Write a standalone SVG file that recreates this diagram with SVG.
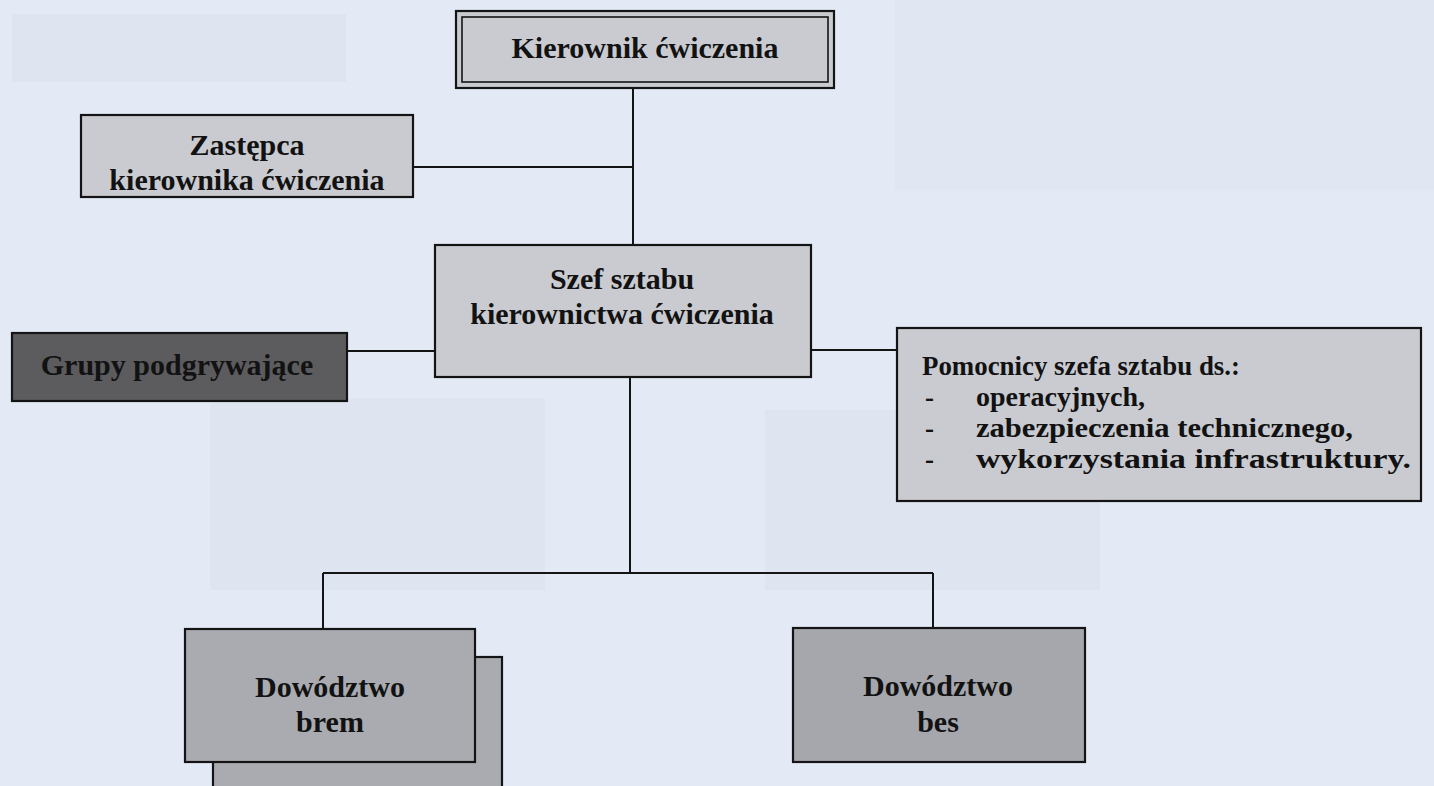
<svg xmlns="http://www.w3.org/2000/svg" width="1434" height="786" viewBox="0 0 1434 786">
<style>
.box{stroke:#141414;stroke-width:2.2}
.lt{fill:#c9cbd0}
.md{fill:#a9abb0}
.dk{fill:#5c5c5f}
.t{font-family:"Liberation Serif","Times New Roman",serif;font-weight:bold;font-size:30px;fill:#121212;text-anchor:middle}
.p{font-family:"Liberation Serif","Times New Roman",serif;font-weight:bold;font-size:27px;fill:#121212}
.ghost{fill:#dfe5f0}
.conn line{stroke:#141414;stroke-width:2}
</style>
<rect width="1434" height="786" fill="#e4eaf5"/>
<g id="ghosts">
<rect class="ghost" x="12" y="14" width="334" height="68"/>
<rect x="895" y="0" width="539" height="190" fill="#e1e7f2"/>
<rect class="ghost" x="210" y="398" width="335" height="192"/>
<rect class="ghost" x="765" y="410" width="335" height="180"/>
</g>
<g id="connectors" class="conn">
<line x1="633" y1="88" x2="633" y2="245"/>
<line x1="413" y1="167" x2="633" y2="167"/>
<line x1="347" y1="351" x2="435" y2="351"/>
<line x1="811" y1="350" x2="897" y2="350"/>
<line x1="630" y1="377" x2="630" y2="573"/>
<line x1="323" y1="573" x2="933" y2="573"/>
<line x1="323" y1="573" x2="323" y2="629"/>
<line x1="933" y1="573" x2="933" y2="628"/>
</g>
<g id="kierownik">
<rect class="box lt" x="456" y="11" width="378" height="77" stroke-width="2.5"/>
<rect x="462" y="17" width="366" height="65" fill="none" stroke="#141414" stroke-width="1.6"/>
<text class="t" x="645" y="58">Kierownik ćwiczenia</text>
</g>
<g id="zastepca">
<rect class="box lt" x="81" y="115" width="332" height="82"/>
<text class="t" x="247" y="155">Zastępca</text>
<text class="t" x="247" y="190">kierownika ćwiczenia</text>
</g>
<g id="szef">
<rect class="box lt" x="435" y="245" width="376" height="132"/>
<text class="t" x="622" y="289">Szef sztabu</text>
<text class="t" x="622" y="324">kierownictwa ćwiczenia</text>
</g>
<g id="grupy">
<rect class="box dk" x="12" y="333" width="335" height="68"/>
<text class="t" x="177" y="375">Grupy podgrywające</text>
</g>
<g id="pomocnicy">
<rect class="box lt" x="897" y="328" width="524" height="173"/>
<text class="p" x="922" y="375" textLength="318" lengthAdjust="spacingAndGlyphs">Pomocnicy szefa sztabu ds.:</text>
<text class="p" x="925" y="406">-</text>
<text class="p" x="976" y="406" textLength="169" lengthAdjust="spacingAndGlyphs">operacyjnych,</text>
<text class="p" x="925" y="437">-</text>
<text class="p" x="976" y="437" textLength="377" lengthAdjust="spacingAndGlyphs">zabezpieczenia technicznego,</text>
<text class="p" x="925" y="468">-</text>
<text class="p" x="976" y="468" textLength="435" lengthAdjust="spacingAndGlyphs">wykorzystania infrastruktury.</text>
</g>
<g id="brem">
<rect class="box md" x="213" y="657" width="289" height="140"/>
<rect class="box md" x="185" y="629" width="290" height="133"/>
<text class="t" x="330" y="697">Dowództwo</text>
<text class="t" x="330" y="732">brem</text>
</g>
<g id="bes">
<rect class="box md" x="793" y="628" width="292" height="134" style="fill:#a5a7ac"/>
<text class="t" x="938" y="696">Dowództwo</text>
<text class="t" x="938" y="732">bes</text>
</g>
</svg>
